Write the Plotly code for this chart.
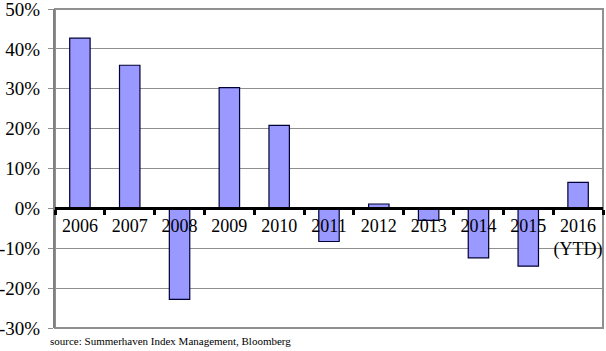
import plotly.graph_objects as go

years = ["2006", "2007", "2008", "2009", "2010", "2011", "2012", "2013", "2014", "2015", "2016"]
year_labels = ["2006", "2007", "2008", "2009", "2010", "2011", "2012", "2013", "2014", "2015", "2016<br>(YTD)"]
returns = [42.7, 35.9, -22.8, 30.3, 20.8, -8.3, 1.1, -3.0, -12.4, -14.5, 6.5]
y_ticks = [-30, -20, -10, 0, 10, 20, 30, 40, 50]
y_tick_labels = ["-30%", "-20%", "-10%", "0%", "10%", "20%", "30%", "40%", "50%"]
source = "source: Summerhaven Index Management, Bloomberg"

font = "Liberation Serif, Times New Roman, serif"
ymin, ymax = -30, 50

fig = go.Figure(go.Bar(
    x=years, y=returns, width=0.41,
    marker=dict(color="#9999FF", line=dict(color="#000033", width=1.2)),
))

fig.update_layout(
    width=606, height=351,
    margin=dict(l=55, r=3, t=9, b=23, autoexpand=False),
    paper_bgcolor="white", plot_bgcolor="white",
    showlegend=False,
    font=dict(family=font, color="black", size=18),
    xaxis=dict(
        type="category", tickvals=years, ticktext=year_labels,
        anchor="free", position=(0 - ymin) / (ymax - ymin),
        showline=True, linecolor="black", linewidth=3,
        ticks="outside", tickson="boundaries", ticklen=5, tickwidth=3, tickcolor="black",
        showgrid=False, tickfont=dict(size=18, family=font), tickangle=0,
        automargin=False, range=[-0.5, 10.5],
    ),
    yaxis=dict(
        range=[ymin, ymax + 0.01], tickvals=y_ticks, ticktext=y_tick_labels,
        showgrid=True, gridcolor="#909090", gridwidth=1,
        showline=True, linecolor="#808080", linewidth=2,
        ticks="outside", ticklen=5, tickcolor="#909090", ticklabelstandoff=4,
        ticklabeloverflow="allow",
        zeroline=False, tickfont=dict(size=19, family=font), automargin=False,
    ),
    shapes=[dict(type="rect", xref="paper", yref="paper", x0=0, x1=1, y0=0, y1=1,
                 line=dict(color="#909090", width=2), layer="below")],
    annotations=[dict(text=source, xref="paper", yref="paper", x=-0.013, y=-0.015,
                      xanchor="left", yanchor="top", showarrow=False,
                      font=dict(size=11, family=font, color="black"))],
)

fig.write_html("out.html")
